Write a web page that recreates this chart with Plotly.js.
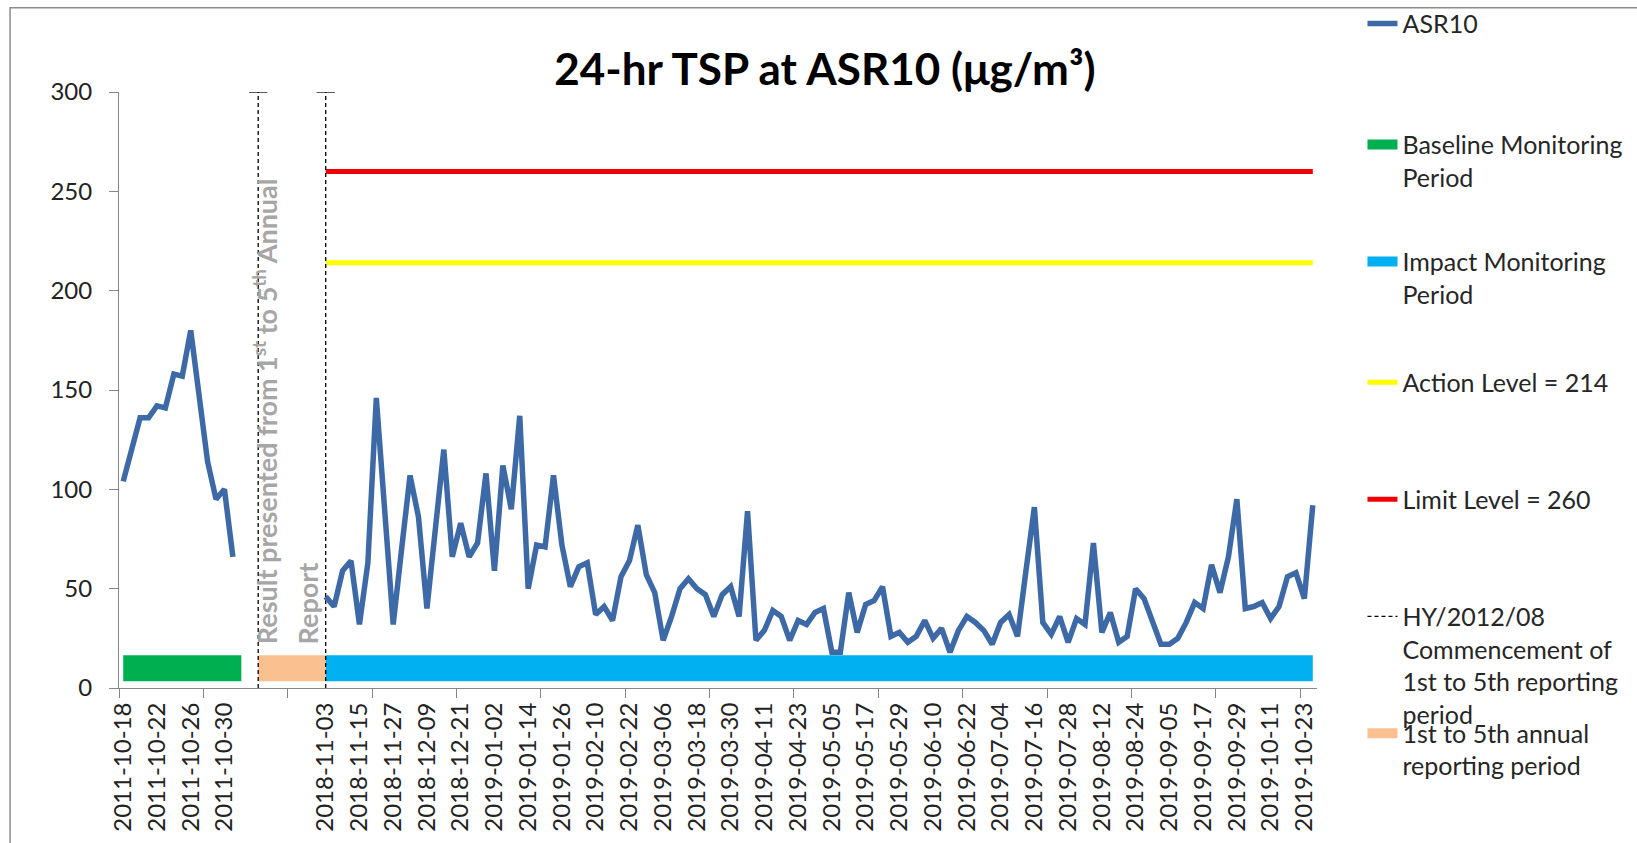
<!DOCTYPE html>
<html>
<head>
<meta charset="utf-8">
<script src="https://cdn.plot.ly/plotly-3.0.1.min.js"></script>
<style>
  html, body { margin: 0; padding: 0; background: #ffffff; }
  #chart { width: 1637px; height: 843px; }
</style>
</head>
<body>
<div id="chart"></div>
<script>
// ---------------- DATA ----------------
const baselineDates = [
  '2011-10-18','2011-10-19','2011-10-20','2011-10-21','2011-10-22','2011-10-23','2011-10-24',
  '2011-10-25','2011-10-26','2011-10-27','2011-10-28','2011-10-29','2011-10-30','2011-10-31'
];
const baselineValues = [104, 120, 136, 136, 142, 141, 158, 157, 180, 147, 114, 95, 100, 66];

// blank categories between the baseline and the impact period (no label, no data)
const gapCategories = ['gap1','gap2','gap3','gap4','gap5','gap6','gap7','gap8','gap9','gap10'];

const impactDates = [
  '2018-11-03','2018-11-06','2018-11-09','2018-11-12','2018-11-15','2018-11-18','2018-11-21','2018-11-24',
  '2018-11-27','2018-11-30','2018-12-03','2018-12-06','2018-12-09','2018-12-12','2018-12-15','2018-12-18',
  '2018-12-21','2018-12-24','2018-12-27','2018-12-30','2019-01-02','2019-01-05','2019-01-08','2019-01-11',
  '2019-01-14','2019-01-17','2019-01-20','2019-01-23','2019-01-26','2019-01-29','2019-02-01','2019-02-07',
  '2019-02-10','2019-02-13','2019-02-16','2019-02-19','2019-02-22','2019-02-25','2019-02-28','2019-03-03',
  '2019-03-06','2019-03-09','2019-03-12','2019-03-15','2019-03-18','2019-03-21','2019-03-24','2019-03-27',
  '2019-03-30','2019-04-02','2019-04-05','2019-04-08','2019-04-11','2019-04-14','2019-04-17','2019-04-20',
  '2019-04-23','2019-04-26','2019-04-29','2019-05-02','2019-05-05','2019-05-08','2019-05-11','2019-05-14',
  '2019-05-17','2019-05-20','2019-05-23','2019-05-26','2019-05-29','2019-06-01','2019-06-04','2019-06-07',
  '2019-06-10','2019-06-13','2019-06-16','2019-06-19','2019-06-22','2019-06-25','2019-06-28','2019-07-01',
  '2019-07-04','2019-07-07','2019-07-10','2019-07-13','2019-07-16','2019-07-19','2019-07-22','2019-07-25',
  '2019-07-28','2019-07-31','2019-08-06','2019-08-09','2019-08-12','2019-08-15','2019-08-18','2019-08-21',
  '2019-08-24','2019-08-27','2019-08-30','2019-09-02','2019-09-05','2019-09-08','2019-09-11','2019-09-14',
  '2019-09-17','2019-09-20','2019-09-23','2019-09-26','2019-09-29','2019-10-02','2019-10-05','2019-10-08',
  '2019-10-11','2019-10-14','2019-10-17','2019-10-20','2019-10-23','2019-10-26'
];
const impactValues = [
   46,  41,  59,  64,  32,  63, 146,  89,  32,  70, 107,  86,  40,  80, 120,  66,
   83,  66,  73, 108,  59, 112,  90, 137,  50,  72,  71, 107,  72,  51,  61,  63,
   37,  41,  34,  56,  64,  82,  57,  48,  24,  36,  50,  55,  50,  47,  36,  47,
   51,  36,  89,  24,  29,  39,  36,  24,  34,  32,  38,  40,  18,  18,  48,  28,
   42,  44,  51,  26,  28,  23,  26,  34,  25,  30,  18,  29,  36,  33,  29,  22,
   33,  37,  26,  59,  91,  33,  27,  36,  23,  35,  32,  73,  28,  38,  23,  26,
   50,  45,  33,  22,  22,  25,  33,  43,  40,  62,  48,  66,  95,  40,  41,  43,
   35,  41,  56,  58,  45,  92
];

const actionLevel = 214;
const limitLevel = 260;
const periodBarLevel = 10;
const axisMax = 300;

// periods, given as first / last category
const baselinePeriod = ['2011-10-18', 'gap1'];
const reportPeriod   = ['gap3', '2018-11-03'];
const impactPeriod   = ['2018-11-03', '2019-10-26'];
const markerLines    = ['gap3', '2018-11-03'];   // HY/2012/08 dashed lines

// ---------------- BUILD ----------------
const categories = baselineDates.concat(gapCategories, impactDates);
const idx = c => categories.indexOf(c);
const isGap = c => gapCategories.indexOf(c) >= 0;

const tickVals = [], tickText = [];
categories.forEach((c, i) => { if (i % 4 === 0 && !isGap(c)) { tickVals.push(i); tickText.push(c); } });
const minorTicks = [];
for (let b = 0; b <= categories.length; b += 10) minorTicks.push(b - 0.5);

const FONT = 'Lato, "Open Sans", sans-serif';
const LEG_FONT = {family: FONT, size: 25, color: '#262626'};

const dashX = [], dashY = [];
markerLines.forEach(c => { dashX.push(idx(c), idx(c), null); dashY.push(0, axisMax, null); });

const traces = [
  { // baseline bar
    x: baselinePeriod.map(idx), y: [periodBarLevel, periodBarLevel], mode: 'lines',
    line: {color: '#00b050', width: 26}, name: 'Baseline Monitoring<br>Period', legend: 'legend2',
    hoverinfo: 'skip'
  },
  { // report period bar
    x: reportPeriod.map(idx), y: [periodBarLevel, periodBarLevel], mode: 'lines',
    line: {color: '#fac090', width: 26}, name: '1st to 5th annual<br>reporting period', legend: 'legend7',
    hoverinfo: 'skip'
  },
  { // impact bar
    x: impactPeriod.map(idx), y: [periodBarLevel, periodBarLevel], mode: 'lines',
    line: {color: '#00b0f0', width: 26}, name: 'Impact Monitoring<br>Period', legend: 'legend3',
    hoverinfo: 'skip'
  },
  { // action level
    x: impactPeriod.map(idx), y: [actionLevel, actionLevel], mode: 'lines',
    line: {color: '#ffff00', width: 5}, name: 'Action Level = 214', legend: 'legend4'
  },
  { // limit level
    x: impactPeriod.map(idx), y: [limitLevel, limitLevel], mode: 'lines',
    line: {color: '#f00000', width: 5}, name: 'Limit Level = 260', legend: 'legend5'
  },
  { // dashed lines
    x: dashX, y: dashY, mode: 'lines',
    line: {color: '#000000', width: 1.3, dash: '4px,3px'},
    name: 'HY/2012/08<br>Commencement of<br>1st to 5th reporting<br>period', legend: 'legend6'
  },
  { // caps of dashed lines
    x: markerLines.map(idx), y: markerLines.map(() => axisMax), mode: 'markers',
    marker: {symbol: 'line-ew', size: 13, line: {color: '#000000', width: 1.3}},
    showlegend: false, hoverinfo: 'skip'
  },
  { // ASR10 baseline
    x: baselineDates.map(idx), y: baselineValues, mode: 'lines',
    line: {color: '#3d6aa6', width: 5.5}, name: 'ASR10', legend: 'legend', legendgroup: 'asr'
  },
  { // ASR10 impact
    x: impactDates.map(idx), y: impactValues, mode: 'lines',
    line: {color: '#3d6aa6', width: 5.5}, name: 'ASR10', legend: 'legend', legendgroup: 'asr',
    showlegend: false
  }
];

// legend boxes on the right side
const PL = 119, PW = 1198.5, PT = 92.3, PH = 596.2;
const legX = px => (px - PL) / PW;
const legY = py => (PT + PH - py) / PH;
function leg(centerY) {
  return {x: legX(1363), y: legY(centerY - 24), xanchor: 'left', yanchor: 'top',
          font: LEG_FONT, valign: 'top', bgcolor: 'rgba(0,0,0,0)', borderwidth: 0};
}

const layout = {
  width: 1637, height: 843,
  margin: {l: PL, r: 1637 - PL - PW, t: PT, b: 843 - PT - PH, pad: 0, autoexpand: false},
  paper_bgcolor: '#ffffff', plot_bgcolor: '#ffffff',
  title: {
    text: '<b>24-hr TSP at ASR10 (μg/m³)</b>',
    font: {family: FONT, size: 44, color: '#000000'},
    x: 825 / 1637, xref: 'container', xanchor: 'center',
    y: 1 - 70 / 843, yref: 'container', yanchor: 'middle'
  },
  xaxis: {
    type: 'linear', range: [-0.5, categories.length - 0.5],
    showgrid: false, zeroline: false,
    showline: true, linecolor: '#868686', linewidth: 1,
    tickmode: 'array', tickvals: tickVals, ticktext: tickText,
    ticks: '', tickangle: -90, ticklabelstandoff: 4,
    tickfont: {family: FONT, size: 24, color: '#222222'},
    minor: {tickmode: 'array', tickvals: minorTicks, ticks: 'outside', ticklen: 9,
            tickcolor: '#868686', tickwidth: 1, showgrid: false}
  },
  yaxis: {
    range: [0, axisMax], tickmode: 'linear', tick0: 0, dtick: 50,
    showgrid: false, zeroline: false,
    showline: true, linecolor: '#868686', linewidth: 1,
    ticks: 'outside', ticklen: 9, tickcolor: '#868686', tickwidth: 1,
    ticklabelstandoff: 12,
    tickfont: {family: FONT, size: 24, color: '#222222'}
  },
  legend:  leg(25),
  legend2: leg(146),
  legend3: leg(263),
  legend4: leg(384),
  legend5: leg(501),
  legend6: leg(618),
  legend7: leg(735),
  annotations: [
    {text: 'Result presented from 1<sup>st</sup> to 5<sup>th</sup> Annual', textangle: -90,
     x: (idx('gap3') + idx('gap4')) / 2 + 0.3, y: 21, xref: 'x', yref: 'y',
     xanchor: 'center', yanchor: 'bottom', showarrow: false,
     font: {family: FONT, size: 27, color: '#a6a6a6', weight: 'bold'}},
    {text: 'Report', textangle: -90,
     x: (idx('gap8') + idx('gap9')) / 2 + 0.3, y: 21, xref: 'x', yref: 'y',
     xanchor: 'center', yanchor: 'bottom', showarrow: false,
     font: {family: FONT, size: 27, color: '#a6a6a6', weight: 'bold'}}
  ],
  shapes: [
    {type: 'rect', xref: 'paper', yref: 'paper',
     x0: legX(10), x1: legX(1700), y0: legY(900), y1: legY(8),
     line: {color: '#8c8c8c', width: 1.5}, fillcolor: 'rgba(0,0,0,0)', layer: 'below'}
  ],
  showlegend: true
};

Plotly.newPlot('chart', traces, layout, {displayModeBar: false, staticPlot: true});
</script>
</body>
</html>
